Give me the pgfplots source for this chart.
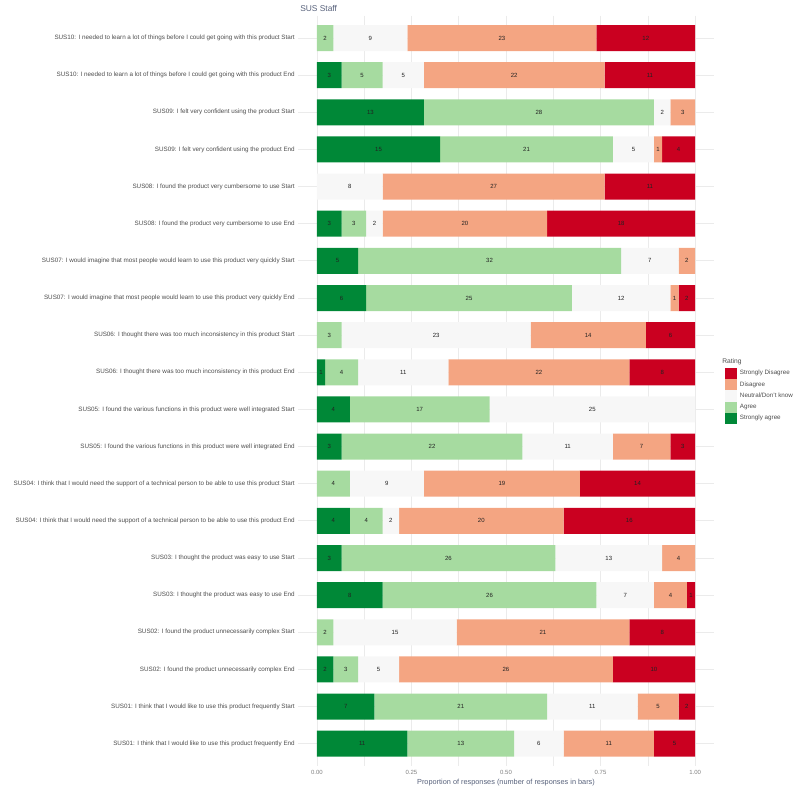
\documentclass[border=0pt]{standalone}
\usepackage{pgfplots}
\pgfplotsset{compat=1.18}
\usepackage{pgfplotstable}
\usepackage{fontspec}
\setmainfont{Liberation Sans}
\definecolor{cSD}{HTML}{CA0020}
\definecolor{cD}{HTML}{F4A582}
\definecolor{cN}{HTML}{F7F7F7}
\definecolor{cA}{HTML}{A6DBA0}
\definecolor{cSA}{HTML}{008837}
\definecolor{gridc}{HTML}{EBEBEB}
\definecolor{labc}{HTML}{4D4D4D}
\definecolor{titc}{HTML}{56607A}
\definecolor{numc}{HTML}{222222}

\pgfplotstableread{
row sa a ne d sd
0 0 2 9 23 12
1 3 5 5 22 11
2 13 28 2 3 0
3 15 21 5 1 4
4 0 0 8 27 11
5 3 3 2 20 18
6 5 32 7 2 0
7 6 25 12 1 2
8 0 3 23 14 6
9 1 4 11 22 8
10 4 17 25 0 0
11 3 22 11 7 3
12 0 4 9 19 14
13 4 4 2 20 16
14 3 26 13 4 0
15 8 26 7 4 1
16 0 2 15 21 8
17 2 3 5 26 10
18 7 21 11 5 2
19 11 13 6 11 5
}\sus

\pgfplotsset{
  common/.style={
    scale only axis, width=312pt, height=562.7pt,
    at={(223.5pt,25.5pt)}, anchor=south west,
    xmin=-0.05, xmax=1.05, ymin=-0.6, ymax=19.6, y dir=reverse,
    clip=false,
  },
  lab/.style={draw=none, mark=none, point meta=explicit symbolic,
    nodes near coords={\ifnum\pgfplotspointmeta>0 \pgfplotspointmeta\fi},
    every node near coord/.append style={anchor=center, inner sep=0pt,
      font=\fontsize{4.5}{5}\selectfont, text=numc}},
}

\begin{document}
\begin{tikzpicture}
\path (0pt,0pt) rectangle (600pt,600pt);
\begin{axis}[common,
  xbar stacked, bar width=0.7,
  legend image code/.code={\fill[#1] (0pt,-4.2pt) rectangle (9pt,4.2pt);},
  axis line style={draw=none},
  major tick length=0pt, minor tick length=0pt,
  xtick={0,0.25,0.5,0.75,1}, xticklabels={0.00,0.25,0.50,0.75,1.00},
  minor xtick={0.125,0.375,0.625,0.875},
  ytick={0,...,19},
  yticklabels={
    {SUS10: I needed to learn a lot of things before I could get going with this product Start},
    {SUS10: I needed to learn a lot of things before I could get going with this product End},
    {SUS09: I felt very confident using the product Start},
    {SUS09: I felt very confident using the product End},
    {SUS08: I found the product very cumbersome to use Start},
    {SUS08: I found the product very cumbersome to use End},
    {SUS07: I would imagine that most people would learn to use this product very quickly Start},
    {SUS07: I would imagine that most people would learn to use this product very quickly End},
    {SUS06: I thought there was too much inconsistency in this product Start},
    {SUS06: I thought there was too much inconsistency in this product End},
    {SUS05: I found the various functions in this product were well integrated Start},
    {SUS05: I found the various functions in this product were well integrated End},
    {SUS04: I think that I would need the support of a technical person to be able to use this product Start},
    {SUS04: I think that I would need the support of a technical person to be able to use this product End},
    {SUS03: I thought the product was easy to use Start},
    {SUS03: I thought the product was easy to use End},
    {SUS02: I found the product unnecessarily complex Start},
    {SUS02: I found the product unnecessarily complex End},
    {SUS01: I think that I would like to use this product frequently Start},
    {SUS01: I think that I would like to use this product frequently End}},
  xmajorgrids, xminorgrids, ymajorgrids,
  major grid style={gridc, line width=0.6pt},
  minor grid style={gridc, line width=0.35pt},
  xticklabel style={font=\fontsize{4.5}{5}\selectfont, text=gray, anchor=north, inner sep=0pt, yshift=-3.2pt},
  yticklabel style={font=\fontsize{4.72}{5}\selectfont, text=labc, anchor=east, inner sep=0pt, xshift=-2.25pt},
  xlabel={Proportion of responses (number of responses in bars)},
  x label style={at={(axis description cs:0.5,0)}, anchor=center, yshift=-12.75pt,
    font=\fontsize{5.5}{6}\selectfont, text=titc},
  reverse legend,
  legend cell align=left,
  legend style={at={(axis description cs:1.0264,0.5305)}, anchor=north west,
    draw=none, fill=none, inner sep=0pt, outer sep=0pt, row sep=0pt, column sep=2.25pt,
    nodes={inner sep=0pt}, font=\fontsize{4.7}{5}\selectfont, text=labc},
]
\addplot[fill=cSA, draw=none] table[y=row, x expr=\thisrow{sa}/46] {\sus};
\addlegendentry{Strongly agree}
\addplot[fill=cA, draw=none] table[y=row, x expr=\thisrow{a}/46] {\sus};
\addlegendentry{Agree}
\addplot[fill=cN, draw=none] table[y=row, x expr=\thisrow{ne}/46] {\sus};
\addlegendentry{Neutral/Don't know}
\addplot[fill=cD, draw=none] table[y=row, x expr=\thisrow{d}/46] {\sus};
\addlegendentry{Disagree}
\addplot[fill=cSD, draw=none] table[y=row, x expr=\thisrow{sd}/46] {\sus};
\addlegendentry{Strongly Disagree}
\node[anchor=west, inner sep=0pt, font=\fontsize{5}{6}\selectfont, text=labc] at (axis description cs:1.0192,0.5385) {Rating};
\node[anchor=west, inner sep=0pt, font=\fontsize{6.3}{7}\selectfont, text=titc] at (axis description cs:0.0048,1.0103) {SUS Staff};
\end{axis}
\begin{axis}[common, hide axis]
\addplot[lab] table[y=row, x expr=\thisrow{sa}/92, meta=sa] {\sus};
\addplot[lab] table[y=row, x expr=(\thisrow{sa}+\thisrow{a}/2)/46, meta=a] {\sus};
\addplot[lab] table[y=row, x expr=(\thisrow{sa}+\thisrow{a}+\thisrow{ne}/2)/46, meta=ne] {\sus};
\addplot[lab] table[y=row, x expr=(\thisrow{sa}+\thisrow{a}+\thisrow{ne}+\thisrow{d}/2)/46, meta=d] {\sus};
\addplot[lab] table[y=row, x expr=(\thisrow{sa}+\thisrow{a}+\thisrow{ne}+\thisrow{d}+\thisrow{sd}/2)/46, meta=sd] {\sus};
\end{axis}
\end{tikzpicture}
\end{document}
